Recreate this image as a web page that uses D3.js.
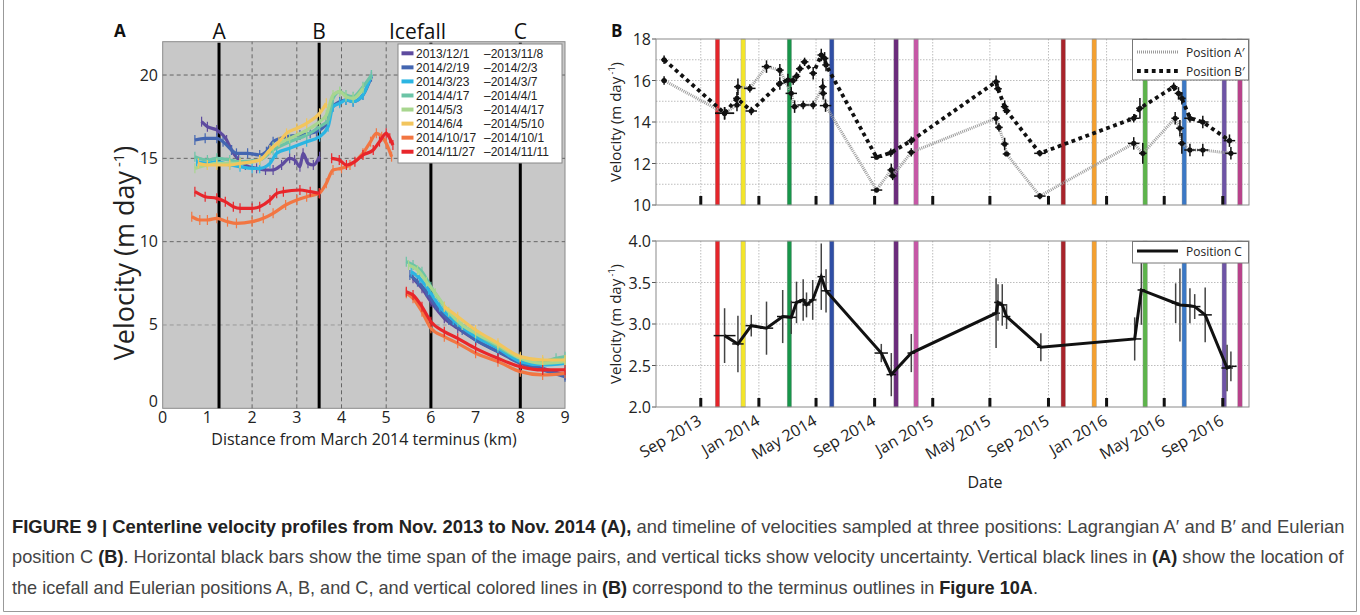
<!DOCTYPE html>
<html><head><meta charset="utf-8">
<script src="https://cdn.jsdelivr.net/npm/d3@7"></script>
<style>
body{margin:0;background:#fff;}
svg{display:block;font-family:"Open Sans",sans-serif;}
</style></head><body>
<svg id="c" width="1360" height="615"></svg>
<script>
// ---------- Panel A data ----------
const seriesStart = ["2013/12/1","2014/2/19","2014/3/23","2014/4/17","2014/5/3","2014/6/4","2014/10/17","2014/11/27"];
const seriesEnd   = ["\u20132013/11/8","\u20132014/2/3","\u20132014/3/7","\u20132014/4/1","\u20132014/4/17","\u20132014/5/10","\u20132014/10/1","\u20132014/11/11"];
const seriesColors = ["#5e4b9f","#4466b1","#2bb5e2","#6cc4a6","#a8d68f","#f2c55d","#f27642","#e8262b"];
// profiles: [km, velocity]; null separates segments
const prof1 = [[0.87,17.2],[1.0,16.9],[1.21,16.7],[1.43,16.1],[1.54,15.5],[1.7,14.9],[1.85,14.6],[2.1,14.4],[2.3,14.3],[2.47,14.3],[2.66,14.6],[2.84,15.0],[2.95,14.9],[3.07,14.5],[3.14,15.3],[3.25,14.7],[3.37,14.6],[3.51,15.1],null,
  [5.6,7.8],[5.8,7.2],[6.0,6.4],[6.3,5.4],[6.6,4.8],[7.0,4.1],[7.5,3.4],[8.0,2.8],[8.5,2.4],[9.0,2.0]];
const prof2 = [[0.72,16.1],[0.95,16.2],[1.21,16.2],[1.35,16.0],[1.54,15.5],[1.65,15.3],[1.9,15.3],[2.17,15.2],[2.32,15.4],[2.47,16.0],[2.77,16.3],[3.07,16.4],[3.3,16.5],[3.44,16.6],[3.66,17.1],[3.81,18.1],[3.96,18.4],[4.1,18.5],[4.26,18.4],[4.48,18.8],[4.67,19.9],null,
  [5.53,8.0],[5.7,7.6],[5.9,7.0],[6.1,6.2],[6.4,5.3],[6.7,4.7],[7.0,4.1],[7.5,3.4],[8.0,2.7],[8.5,2.3],[9.0,1.9]];
const prof3 = [[0.76,14.8],[1.0,14.7],[1.21,14.8],[1.5,14.6],[1.73,14.5],[2.0,14.4],[2.17,14.4],[2.4,14.7],[2.55,15.3],[2.84,15.6],[3.22,16.0],[3.51,16.3],[3.70,16.9],[3.81,18.1],[3.96,18.3],[4.1,18.5],[4.26,18.4],[4.48,18.8],[4.67,20.0],null,
  [5.56,8.2],[5.75,7.8],[5.95,7.1],[6.2,6.1],[6.5,5.3],[7.0,4.3],[7.5,3.6],[8.0,2.8],[8.5,2.6],[9.0,2.7]];
const prof4 = [[0.72,15.1],[1.0,14.9],[1.21,15.0],[1.5,14.9],[1.73,14.8],[2.17,14.9],[2.47,15.5],[2.84,16.0],[3.22,16.4],[3.51,16.9],[3.70,17.3],[3.81,18.6],[3.96,19.0],[4.1,18.8],[4.26,18.7],[4.48,19.3],[4.67,20.0],null,
  [5.45,8.8],[5.6,8.6],[5.8,8.2],[6.0,7.3],[6.3,6.1],[6.6,5.2],[7.0,4.5],[7.5,3.7],[8.0,3.0],[8.5,2.8],[8.8,3.0],[9.0,3.1]];
const prof5 = [[0.72,14.4],[1.0,14.6],[1.21,14.7],[1.5,14.7],[1.73,14.7],[2.17,14.9],[2.47,15.7],[2.84,16.2],[3.22,16.7],[3.51,17.2],[3.66,17.6],[3.81,18.8],[3.96,19.0],[4.1,18.7],[4.26,18.6],[4.48,19.2],null,
  [5.5,8.6],[5.7,8.3],[5.9,7.6],[6.1,6.9],[6.4,5.8],[6.7,5.0],[7.0,4.5],[7.5,3.8],[8.0,3.0],[8.5,2.7],[9.0,2.8]];
const prof6 = [[0.80,14.7],[1.0,14.6],[1.21,14.6],[1.5,14.6],[1.73,14.7],[2.17,14.9],[2.40,15.5],[2.6,16.0],[2.77,16.5],[3.0,16.8],[3.22,17.1],[3.51,17.7],[3.66,18.3],null,
  [6.3,6.1],[6.6,5.5],[7.0,4.7],[7.5,3.9],[8.0,3.1],[8.5,2.9],[9.0,2.9]];
const prof7 = [[0.65,11.5],[0.83,11.3],[1.0,11.3],[1.21,11.4],[1.45,11.2],[1.65,11.1],[2.0,11.2],[2.25,11.4],[2.47,11.7],[2.75,12.2],[3.0,12.5],[3.22,12.7],[3.5,12.9],[3.66,13.5],[3.81,14.3],[4.0,14.4],[4.19,14.6],[4.48,15.3],[4.65,16.0],[4.78,16.5],[4.9,16.3],[5.0,15.9],[5.12,15.1],null,
  [5.45,6.9],[5.6,6.6],[5.8,5.8],[6.0,4.8],[6.3,4.3],[6.6,3.9],[7.0,3.3],[7.5,2.8],[8.0,2.2],[8.5,2.0],[9.0,2.1]];
const prof8 = [[0.72,13.0],[0.95,12.7],[1.21,12.6],[1.4,12.4],[1.58,12.1],[1.73,12.0],[2.0,12.0],[2.17,12.1],[2.40,12.5],[2.55,12.9],[2.70,13.0],[3.07,13.1],[3.3,13.0],[3.51,12.9],null,
  [3.78,15.0],[3.95,14.9],[4.11,14.6],[4.3,14.8],[4.48,15.2],[4.71,15.5],[4.85,16.0],[5.0,16.5],[5.08,16.2],[5.15,15.8],null,
  [5.45,7.0],[5.6,6.8],[5.8,6.1],[6.0,5.2],[6.3,4.6],[6.6,4.2],[7.0,3.6],[7.5,3.0],[8.0,2.5],[8.5,2.3],[9.0,2.3]];
const profiles = [prof1,prof2,prof3,prof4,prof5,prof6,prof7,prof8];
const xTicksA = [0,1,2,3,4,5,6,7,8,9];
const yTicksA = [0,5,10,15,20];
const gridKmA = [2,3,4,5];
const markerKm = [1.26,3.5,6,8];
const markerLabels = ["A","B","Icefall","C"];
const markerLabelKm = [1.26,3.5,5.7,8];

// ---------- Panel B data ----------
// [date, velocity, half time-span (days), velocity uncertainty]
const posA = [["2013-06-16",16.0,6,0.2],["2013-10-21",14.42,20,0.3],["2013-11-16",14.82,8,0.3],["2013-11-18",15.7,8,0.4],["2013-12-13",15.62,12,0.2],
  ["2014-01-17",16.67,10,0.3],["2014-02-14",16.5,8,0.3],["2014-03-10",15.38,12,0.3],["2014-03-17",14.74,8,0.3],["2014-04-04",14.82,12,0.2],
  ["2014-04-25",14.82,8,0.2],["2014-05-15",15.7,8,0.4],["2014-05-16",15.38,8,0.3],["2014-05-21",14.79,12,0.3],["2014-09-05",10.72,12,0.1],
  ["2014-10-06",11.69,8,0.3],["2014-10-09",11.40,8,0.2],["2014-11-17",12.54,8,0.2],["2015-05-14",14.18,8,0.3],["2015-05-20",13.74,8,0.2],
  ["2015-06-01",12.94,8,0.3],["2015-06-05",12.46,8,0.1],["2015-08-14",10.43,12,0.15],["2016-02-27",12.97,12,0.3],["2016-03-17",12.49,8,0.5],
  ["2016-05-24",14.18,8,0.3],["2016-06-03",13.7,8,0.4],["2016-06-07",12.97,8,0.5],["2016-06-24",12.65,12,0.3],["2016-07-21",12.65,12,0.3],["2016-09-18",12.49,12,0.3]];
const posB = [["2013-06-16",17.0,6,0.2],["2013-10-21",14.42,20,0.3],["2013-11-16",15.14,8,0.3],["2013-12-16",14.53,12,0.2],["2014-02-14",15.86,8,0.3],
  ["2014-03-03",16.02,8,0.3],["2014-03-14",16.0,8,0.2],["2014-03-21",16.2,8,0.2],["2014-03-28",16.57,8,0.2],["2014-04-07",16.9,8,0.2],
  ["2014-04-25",16.35,8,0.3],["2014-05-12",17.23,8,0.3],["2014-05-19",17.07,8,0.3],["2014-05-22",16.75,8,0.3],["2014-09-05",12.3,12,0.1],
  ["2014-10-05",12.52,8,0.2],["2014-11-17",13.1,8,0.2],["2015-05-14",15.94,8,0.3],["2015-05-18",15.6,8,0.2],["2015-06-01",14.74,8,0.3],
  ["2015-06-05",14.55,8,0.2],["2015-08-14",12.49,12,0.15],["2016-02-27",14.18,12,0.2],["2016-03-11",14.66,8,0.5],["2016-05-21",15.7,8,0.2],
  ["2016-05-31",15.38,8,0.3],["2016-06-07",15.14,8,0.3],["2016-06-24",14.18,12,0.2],["2016-07-21",14.0,12,0.3],["2016-09-15",13.1,12,0.3]];
const posC = [["2013-10-21",2.86,23,0.33],["2013-11-18",2.76,12,0.34],["2013-12-16",2.98,12,0.13],["2014-01-17",2.95,14,0.32],["2014-02-20",3.09,12,0.32],
  ["2014-03-10",3.08,10,0.2],["2014-03-21",3.26,10,0.25],["2014-04-04",3.29,8,0.25],["2014-04-11",3.23,8,0.15],["2014-04-24",3.29,8,0.24],
  ["2014-05-12",3.57,8,0.4],["2014-05-22",3.40,10,0.26],["2014-09-15",2.65,14,0.11],["2014-10-06",2.39,10,0.26],["2014-11-17",2.65,8,0.23],
  ["2015-05-14",3.13,8,0.42],["2015-05-18",3.26,8,0.22],["2015-05-27",3.23,10,0.25],["2015-06-05",3.09,8,0.15],["2015-08-16",2.72,8,0.17],
  ["2016-02-29",2.82,14,0.26],["2016-03-14",3.41,8,0.42],["2016-05-25",3.25,8,0.24],["2016-06-03",3.23,8,0.44],["2016-06-24",3.22,10,0.21],
  ["2016-07-04",3.21,12,0.15],["2016-07-26",3.11,14,0.33],["2016-09-10",2.47,12,0.28],["2016-09-18",2.49,12,0.18]];
const terminusDates = ["2013-10-06","2013-11-29","2014-03-06","2014-06-03","2014-10-16","2014-11-27","2015-10-02","2015-12-06","2016-03-22","2016-06-12","2016-09-04","2016-10-07"];
const terminusColors = ["#e5252a","#f3e52b","#17964a","#2f4ea5","#6b2c7c","#c657a6","#a8232a","#f4a030","#5db44b","#3b78c5","#6e54a6","#b8418a"];
const dateTicks = ["2013-09-01","2014-01-01","2014-05-01","2014-09-01","2015-01-01","2015-05-01","2015-09-01","2016-01-01","2016-05-01","2016-09-01"];
const dateTickLabels = ["Sep 2013","Jan 2014","May 2014","Sep 2014","Jan 2015","May 2015","Sep 2015","Jan 2016","May 2016","Sep 2016"];
const yTicksTop = [10,12,14,16,18];
const yGridTop = [11,12,13,14,15,16,17];
const yTicksBot = [2.0,2.5,3.0,3.5,4.0];

const svg = d3.select("#c");
const parse = d3.timeParse("%Y-%m-%d");

// ================= Panel A =================
const xA = d3.scaleLinear().domain([0,9]).range([162.7,565]);
const yA = d3.scaleLinear().domain([0,22]).range([408.3,41.7]);
const gA = svg.append("g");
gA.append("rect").attr("x",xA(0)).attr("y",yA(22)).attr("width",xA(9)-xA(0)).attr("height",yA(0)-yA(22))
  .attr("fill","#c8c8c8").attr("stroke","#8a8a8a").attr("stroke-width",1);
gA.selectAll(".hg").data(yTicksA.filter(v=>v>0)).enter().append("line")
  .attr("x1",xA(0)).attr("x2",xA(9)).attr("y1",d=>yA(d)).attr("y2",d=>yA(d))
  .attr("stroke",d=>d===5?"#9a9a9a":"#666").attr("stroke-width",1).attr("stroke-dasharray","4,3");
gA.selectAll(".vg").data(gridKmA).enter().append("line")
  .attr("x1",d=>xA(d)).attr("x2",d=>xA(d)).attr("y1",yA(0)).attr("y2",yA(22))
  .attr("stroke","#666").attr("stroke-width",1).attr("stroke-dasharray","4,3");
gA.selectAll(".mk").data(markerKm).enter().append("line")
  .attr("x1",d=>xA(d)).attr("x2",d=>xA(d)).attr("y1",yA(0)).attr("y2",yA(22)+1)
  .attr("stroke","#000").attr("stroke-width",3);
gA.selectAll(".mkl").data(markerLabels).enter().append("text")
  .attr("x",(d,i)=>xA(markerLabelKm[i])).attr("y",39).attr("text-anchor","middle")
  .attr("font-size",21).attr("fill","#111").text(d=>d);

const lineA = d3.line().defined(d=>d!==null).x(d=>xA(d[0])).y(d=>yA(d[1])).curve(d3.curveMonotoneX);
profiles.forEach((p,i)=>{
  const g = gA.append("g");
  g.append("path").attr("d",lineA(p)).attr("fill","none").attr("stroke",seriesColors[i]).attr("stroke-width",3.2);
  g.selectAll("line").data(p.filter(d=>d!==null)).enter().append("line")
    .attr("x1",d=>xA(d[0])).attr("x2",d=>xA(d[0])).attr("y1",d=>yA(d[1]-0.3)).attr("y2",d=>yA(d[1]+0.3))
    .attr("stroke",seriesColors[i]).attr("stroke-width",1.2);
});
// axes labels A
gA.selectAll(".xt").data(xTicksA).enter().append("text").attr("x",d=>xA(d)).attr("y",422.5)
  .attr("text-anchor","middle").attr("font-size",16).attr("fill","#222").text(d=>d);
gA.selectAll(".yt").data(yTicksA).enter().append("text").attr("x",158).attr("y",d=>yA(d)+(d===0?-1:5.5))
  .attr("text-anchor","end").attr("font-size",16).attr("fill","#222").text(d=>d);
gA.append("text").attr("x",364).attr("y",444.5).attr("text-anchor","middle").attr("font-size",16).attr("fill","#222")
  .text("Distance from March 2014 terminus (km)");
const ylA = gA.append("text").attr("transform","translate(134,253) rotate(-90)").attr("text-anchor","middle")
  .attr("font-size",27).attr("fill","#222");
ylA.append("tspan").text("Velocity (m day");
ylA.append("tspan").attr("font-size",15).attr("dy",-10).text(" -1");
ylA.append("tspan").attr("dy",10).text(")");
gA.append("text").attr("x",114).attr("y",37).attr("font-size",17).attr("font-weight","bold").attr("fill","#111").text("A");
// legend A
const lgA = gA.append("g").attr("font-family","'Liberation Sans',sans-serif");
lgA.append("rect").attr("x",398).attr("y",44).attr("width",164).attr("height",119).attr("fill","#fff").attr("stroke","#888");
seriesStart.forEach((s,i)=>{
  const y = 53.3 + i*14.06;
  lgA.append("line").attr("x1",401.5).attr("x2",413.5).attr("y1",y).attr("y2",y).attr("stroke",seriesColors[i]).attr("stroke-width",4);
  const t = lgA.append("text").attr("x",416).attr("y",y+4.3).attr("font-size",12).attr("fill","#222").text(s);
  const w = t.node().getComputedTextLength();
  lgA.append("text").attr("x",Math.max(484,416+w+1.5)).attr("y",y+4.3).attr("font-size",12).attr("fill","#222").text(seriesEnd[i]);
});

// ================= Panel B =================
const xB = d3.scaleTime().domain([parse("2013-05-30"),parse("2016-10-26")]).range([656,1249]);
const yTop = d3.scaleLinear().domain([10,18]).range([205,39]);
const yBot = d3.scaleLinear().domain([2,4]).range([407,241]);
const tickDates = dateTicks.map(parse);

function frame(g, y, top, bottom, gridVals, tickVals, fmt){
  g.append("rect").attr("x",656).attr("y",top).attr("width",593).attr("height",bottom-top).attr("fill","#fff");
  g.selectAll(".hg").data(gridVals).enter().append("line").attr("x1",656).attr("x2",1249)
    .attr("y1",d=>y(d)).attr("y2",d=>y(d)).attr("stroke","#bdbdbd").attr("stroke-width",1).attr("stroke-dasharray","1.5,1.5");
  g.selectAll(".vg").data(tickDates).enter().append("line").attr("x1",d=>xB(d)).attr("x2",d=>xB(d))
    .attr("y1",top).attr("y2",bottom).attr("stroke","#bdbdbd").attr("stroke-width",1).attr("stroke-dasharray","1.5,1.5");
  g.selectAll(".tl").data(terminusDates).enter().append("rect").attr("x",d=>xB(parse(d))-2.2).attr("y",top)
    .attr("width",4.4).attr("height",bottom-top).attr("fill",(d,i)=>terminusColors[i]).attr("stroke","#999").attr("stroke-width",0.4);
  g.selectAll(".tk").data(tickDates).enter().append("rect").attr("x",d=>xB(d)-1.5).attr("y",bottom-9)
    .attr("width",3).attr("height",9).attr("fill","#111");
  g.selectAll(".yt").data(tickVals).enter().append("text").attr("x",651).attr("y",d=>y(d)+6)
    .attr("text-anchor","end").attr("font-size",16).attr("fill","#222").text(fmt);
  g.selectAll(".ytk").data(tickVals).enter().append("line").attr("x1",652).attr("x2",656)
    .attr("y1",d=>y(d)).attr("y2",d=>y(d)).attr("stroke","#555");
}
function border(g, top, bottom){
  g.append("rect").attr("x",656).attr("y",top).attr("width",593).attr("height",bottom-top).attr("fill","none").attr("stroke","#8a8a8a");
}
function crosses(g, data, y, vColor){
  data.forEach(d=>{
    const t = parse(d[0]);
    g.append("line").attr("x1",xB(d3.timeDay.offset(t,-d[2]))).attr("x2",xB(d3.timeDay.offset(t,d[2])))
      .attr("y1",y(d[1])).attr("y2",y(d[1])).attr("stroke","#111").attr("stroke-width",1.5);
    g.append("line").attr("x1",xB(t)).attr("x2",xB(t)).attr("y1",y(d[1]-d[3])).attr("y2",y(d[1]+d[3]))
      .attr("stroke",vColor).attr("stroke-width",1.5);
  });
}
function ylabel(g, cy){
  const t = g.append("text").attr("transform",`translate(621,${cy}) rotate(-90)`).attr("text-anchor","middle")
    .attr("font-size",15).attr("fill","#222");
  t.append("tspan").text("Velocity (m day");
  t.append("tspan").attr("font-size",9).attr("dy",-6).text(" -1");
  t.append("tspan").attr("dy",6).text(")");
}

// top
const gT = svg.append("g");
frame(gT, yTop, 39, 205, yGridTop, yTicksTop, d=>d);
const lineT = d3.line().x(d=>xB(parse(d[0]))).y(d=>yTop(d[1]));
gT.append("path").attr("d",lineT(posA)).attr("fill","none").attr("stroke","#9c9c9c").attr("stroke-width",3).attr("stroke-dasharray","1,1");
gT.append("path").attr("d",lineT(posB)).attr("fill","none").attr("stroke","#111").attr("stroke-width",3.8).attr("stroke-dasharray","3.8,3.6");
crosses(gT, posA, yTop, "#111");
crosses(gT, posB, yTop, "#111");
gT.selectAll(".dA").data(posA.concat(posB)).enter().append("circle").attr("cx",d=>xB(parse(d[0]))).attr("cy",d=>yTop(d[1]))
  .attr("r",2.6).attr("fill","#111");
border(gT, 39, 205);
ylabel(gT, 122);
// legend top
const lgT = gT.append("g");
lgT.append("rect").attr("x",1132.5).attr("y",39.5).attr("width",116).attr("height",40.5).attr("fill","#fff").attr("stroke","#777");
lgT.append("line").attr("x1",1137).attr("x2",1178).attr("y1",52).attr("y2",52).attr("stroke","#9c9c9c").attr("stroke-width",3).attr("stroke-dasharray","1,1");
lgT.append("line").attr("x1",1137).attr("x2",1178).attr("y1",71).attr("y2",71).attr("stroke","#111").attr("stroke-width",3.8).attr("stroke-dasharray","3.8,3.6");
lgT.append("text").attr("x",1186).attr("y",56.5).attr("font-size",12).attr("fill","#222").text("Position A\u2032");
lgT.append("text").attr("x",1186).attr("y",75.5).attr("font-size",12).attr("fill","#222").text("Position B\u2032");

// bottom
const gBt = svg.append("g");
frame(gBt, yBot, 241, 407, [2.5,3.0,3.5], yTicksBot, d=>d3.format(".1f")(d));
const lineC = d3.line().x(d=>xB(parse(d[0]))).y(d=>yBot(d[1]));
crosses(gBt, posC, yBot, "#444");
gBt.append("path").attr("d",lineC(posC)).attr("fill","none").attr("stroke","#111").attr("stroke-width",3);
border(gBt, 241, 407);
ylabel(gBt, 324);
const lgB = gBt.append("g");
lgB.append("rect").attr("x",1132.5).attr("y",241.5).attr("width",116).attr("height",21.5).attr("fill","#fff").attr("stroke","#777");
lgB.append("line").attr("x1",1137).attr("x2",1178).attr("y1",251).attr("y2",251).attr("stroke","#111").attr("stroke-width",3);
lgB.append("text").attr("x",1186).attr("y",255.5).attr("font-size",12).attr("fill","#222").text("Position C");

// date axis labels
svg.selectAll(".dl").data(dateTickLabels).enter().append("text")
  .attr("transform",(d,i)=>`translate(${xB(tickDates[i])+2},424) rotate(-30)`).attr("text-anchor","end")
  .attr("font-size",16).attr("fill","#222").text(d=>d);
svg.append("text").attr("x",985).attr("y",488).attr("text-anchor","middle").attr("font-size",16).attr("fill","#222").text("Date");
svg.append("text").attr("x",611).attr("y",37).attr("font-size",17).attr("font-weight","bold").attr("fill","#111").text("B");

// ================= Caption =================
const captionLines = [
  [["FIGURE 9 | Centerline velocity profiles from Nov. 2013 to Nov. 2014 (A),",true],[" and timeline of velocities sampled at three positions: Lagrangian A\u2032 and B\u2032 and Eulerian",false]],
  [["position C ",false],["(B)",true],[". Horizontal black bars show the time span of the image pairs, and vertical ticks show velocity uncertainty. Vertical black lines in ",false],["(A)",true],[" show the location of",false]],
  [["the icefall and Eulerian positions A, B, and C, and vertical colored lines in ",false],["(B)",true],[" correspond to the terminus outlines in ",false],["Figure 10A",true],[".",false]]
];
const captionWidths = [1333,1333,1027];
const captionY = [533,563,594];
captionLines.forEach((parts,i)=>{
  const t = svg.append("text").attr("x",0).attr("y",0).attr("font-size",18).attr("fill","#333")
    .attr("font-family","'Liberation Sans',sans-serif");
  parts.forEach(p=>t.append("tspan").attr("font-weight",p[1]?"bold":"normal").attr("fill",p[1]?"#222":"#444").text(p[0]));
  const w = t.node().getComputedTextLength();
  t.attr("transform",`translate(12,${captionY[i]}) scale(${captionWidths[i]/w},1)`);
});
// frame
svg.append("path").attr("d","M3.5,0 V611.5 H1356.5 V0").attr("fill","none").attr("stroke","#999").attr("stroke-width",1);
</script>
</body></html>
